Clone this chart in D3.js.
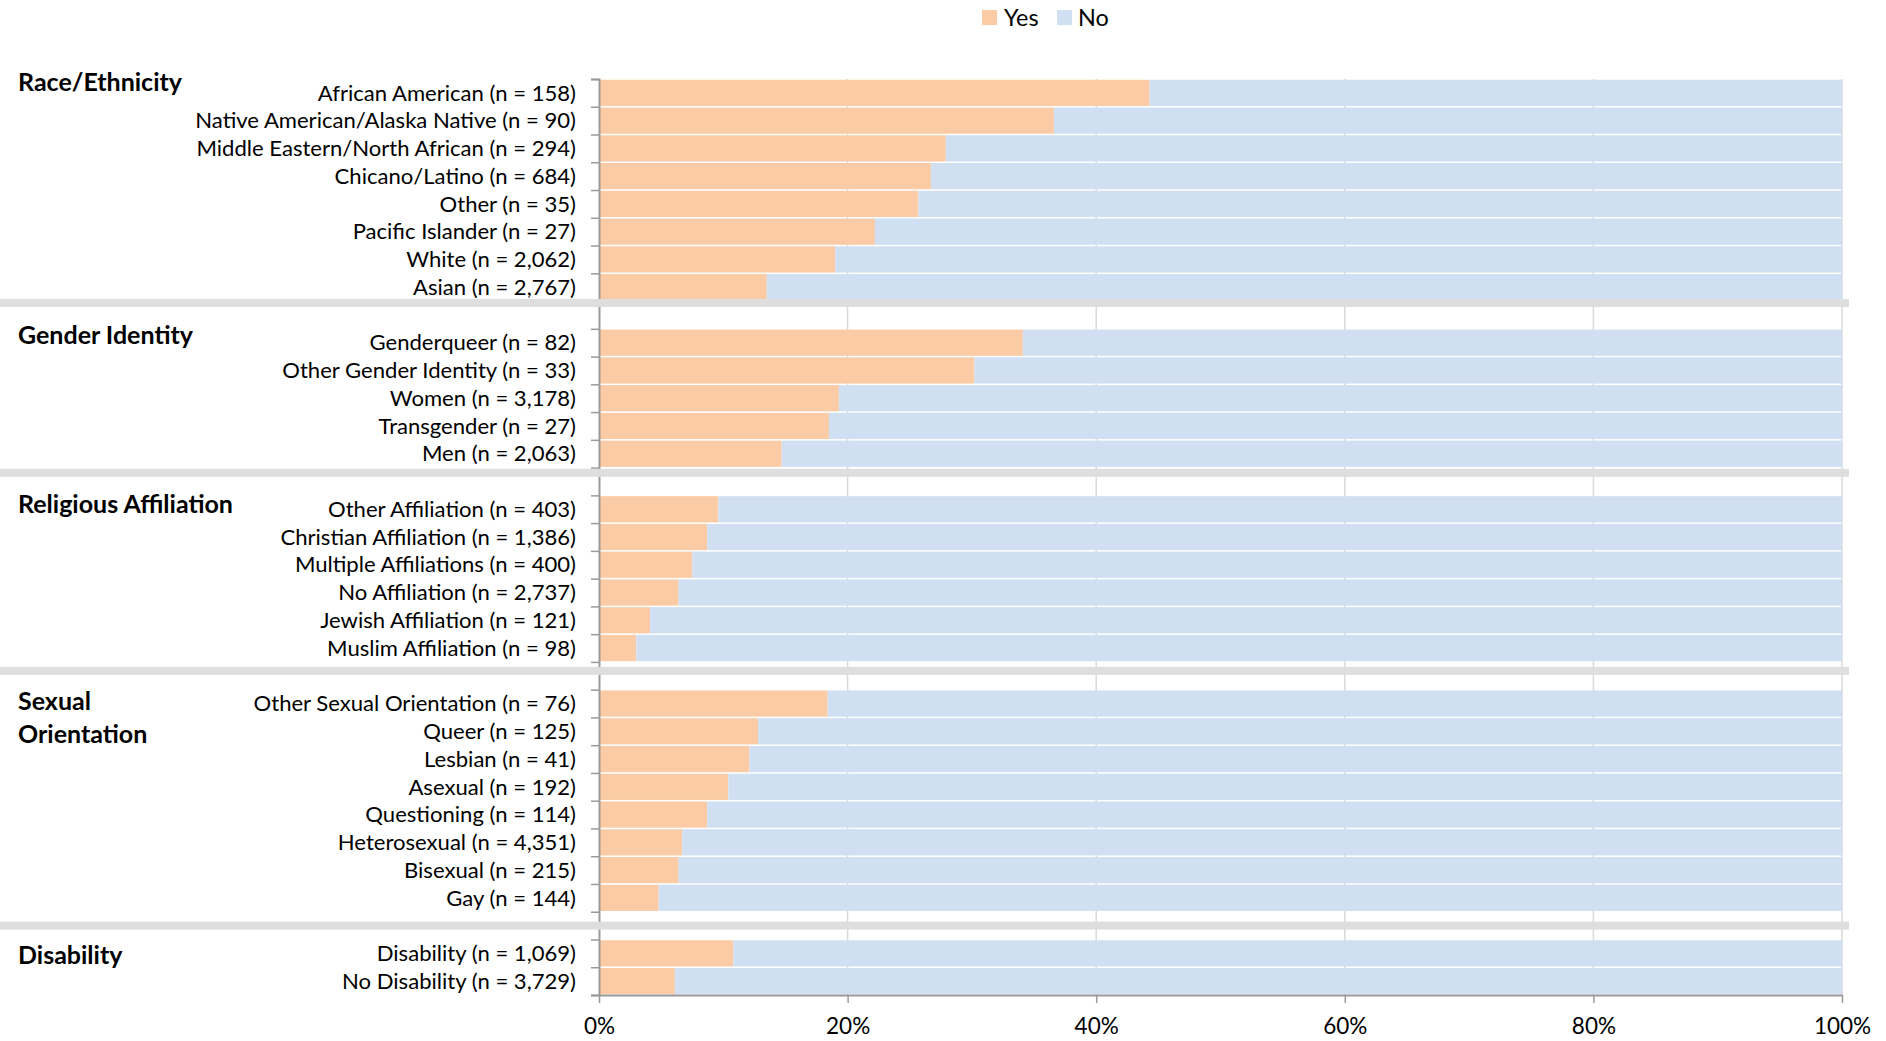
<!DOCTYPE html>
<html>
<head>
<meta charset="utf-8">
<script src="https://cdn.jsdelivr.net/npm/d3@7"></script>
<style>
  html, body { margin: 0; padding: 0; background: #ffffff; }
  svg { display: block; }
</style>
</head>
<body>
<svg id="chart" width="1886" height="1041"></svg>
<script>
// ---- data ----
const groupTitles = [
  ["Race/Ethnicity"],
  ["Gender Identity"],
  ["Religious Affiliation"],
  ["Sexual", "Orientation"],
  ["Disability"]
];

const categories = [
  "African American (n = 158)",
  "Native American/Alaska Native (n = 90)",
  "Middle Eastern/North African (n = 294)",
  "Chicano/Latino (n = 684)",
  "Other (n = 35)",
  "Pacific Islander (n = 27)",
  "White (n = 2,062)",
  "Asian (n = 2,767)",
  "Genderqueer (n = 82)",
  "Other Gender Identity (n = 33)",
  "Women (n = 3,178)",
  "Transgender (n = 27)",
  "Men (n = 2,063)",
  "Other Affiliation (n = 403)",
  "Christian Affiliation (n = 1,386)",
  "Multiple Affiliations (n = 400)",
  "No Affiliation (n = 2,737)",
  "Jewish Affiliation (n = 121)",
  "Muslim Affiliation (n = 98)",
  "Other Sexual Orientation (n = 76)",
  "Queer (n = 125)",
  "Lesbian (n = 41)",
  "Asexual (n = 192)",
  "Questioning (n = 114)",
  "Heterosexual (n = 4,351)",
  "Bisexual (n = 215)",
  "Gay (n = 144)",
  "Disability (n = 1,069)",
  "No Disability (n = 3,729)"
];

const categoryGroup = [
  0, 0, 0, 0, 0, 0, 0, 0,
  1, 1, 1, 1, 1,
  2, 2, 2, 2, 2, 2,
  3, 3, 3, 3, 3, 3, 3, 3,
  4, 4
];

const seriesNames = ["Yes", "No"];

const yesValues = [
  44.3, 36.6, 27.9, 26.7, 25.7, 22.2, 19.0, 13.5,
  34.1, 30.2, 19.3, 18.5, 14.7,
  9.6, 8.7, 7.5, 6.4, 4.1, 3.0,
  18.4, 12.8, 12.1, 10.4, 8.7, 6.7, 6.4, 4.8,
  10.8, 6.1
];

const noValues = [
  55.7, 63.4, 72.1, 73.3, 74.3, 77.8, 81.0, 86.5,
  65.9, 69.8, 80.7, 81.5, 85.3,
  90.4, 91.3, 92.5, 93.6, 95.9, 97.0,
  81.6, 87.2, 87.9, 89.6, 91.3, 93.3, 93.6, 95.2,
  89.2, 93.9
];

const xTickValues = [0, 20, 40, 60, 80, 100];
const xTickLabels = ["0%", "20%", "40%", "60%", "80%", "100%"];

// ---- layout & style ----
const FONT = "Lato, 'Open Sans', 'DejaVu Sans', sans-serif";
const colors = { Yes: "#fbcba5", No: "#d0e0f2" };
const plot = { left: 599, right: 1842, top: 79, bottom: 995 };
const labelRight = 576;
const titleX = 18;

const svg = d3.select("#chart");

// Size a font so a reference string spans the given width.
function fitFontSize(text, weight, targetWidth) {
  const t = svg.append("text")
    .attr("font-family", FONT)
    .attr("font-weight", weight)
    .attr("font-size", 100)
    .text(text);
  const w = t.node().getComputedTextLength();
  t.remove();
  return 100 * targetWidth / w;
}
const labelSize = fitFontSize("Native American/Alaska Native (n = 90)", 400, 381);
const titleSize = fitFontSize("Religious Affiliation", 700, 215);
const tickSize = labelSize * 1.02;
const legendSize = labelSize * 1.06;

// Row keys: each group's categories followed by a spacer row (none after the last group).
const rowKeys = [];
const firstRowOfGroup = [];
const spacerRows = [];
groupTitles.forEach((_, g) => {
  const idx = categories.map((c, i) => i).filter(i => categoryGroup[i] === g);
  firstRowOfGroup.push(rowKeys.length);
  idx.forEach(i => rowKeys.push("c" + i));
  if (g < groupTitles.length - 1) {
    spacerRows.push(rowKeys.length);
    rowKeys.push("gap" + g);
  }
});

const x = d3.scaleLinear().domain([0, 100]).range([plot.left, plot.right]);
const y = d3.scaleBand().domain(rowKeys).range([plot.top, plot.bottom])
  .paddingInner(0.055).paddingOuter(0.0275);
const rowEdge = d3.scaleLinear().domain([0, rowKeys.length]).range([plot.top, plot.bottom]);
// Side panel (titles and divider bands) runs on a slightly wider row pitch.
const panel = d3.scaleLinear().domain([0, rowKeys.length]).range([76.6, 76.6 + rowKeys.length * 28.3]);
const titleRow = d3.scaleLinear().domain([0, rowKeys.length]).range([81.8, 81.8 + rowKeys.length * 28.17]);

// ---- gridlines ----
svg.append("g")
  .selectAll("line")
  .data(xTickValues.filter(v => v > 0))
  .join("line")
  .attr("x1", d => x(d)).attr("x2", d => x(d))
  .attr("y1", plot.top).attr("y2", plot.bottom)
  .attr("stroke", "#d9d9d9")
  .attr("stroke-width", 1.5);

// ---- stacked bars ----
const table = categories.map((c, i) => ({ key: "c" + i, Yes: yesValues[i], No: noValues[i] }));
const stacked = d3.stack().keys(seriesNames)(table);

svg.append("g")
  .selectAll("g")
  .data(stacked)
  .join("g")
  .attr("fill", d => colors[d.key])
  .selectAll("rect")
  .data(d => d)
  .join("rect")
  .attr("x", d => x(d[0]))
  .attr("width", d => x(d[1]) - x(d[0]))
  .attr("y", d => y(d.data.key))
  .attr("height", y.bandwidth());

// ---- axes ----
const leftAxis = svg.append("g")
  .attr("transform", `translate(${plot.left},0)`)
  .call(d3.axisLeft(rowEdge).tickValues(d3.range(rowKeys.length + 1)).tickFormat("").tickSize(8));
leftAxis.select(".domain").attr("stroke", "#9a9a9a").attr("stroke-width", 2);
leftAxis.selectAll(".tick line").attr("stroke", "#9a9a9a").attr("stroke-width", 1.5);

const bottomAxis = svg.append("g")
  .attr("transform", `translate(0,${plot.bottom})`)
  .call(d3.axisBottom(x).tickValues(xTickValues)
    .tickFormat((d, i) => xTickLabels[i]).tickSize(8).tickSizeOuter(0));
bottomAxis.select(".domain").attr("stroke", "#9a9a9a").attr("stroke-width", 2);
bottomAxis.selectAll(".tick line").attr("stroke", "#9a9a9a").attr("stroke-width", 1.5);
bottomAxis.selectAll(".tick text")
  .attr("y", 31)
  .attr("dy", "0.35em")
  .attr("fill", "#000")
  .attr("font-family", FONT)
  .attr("font-size", tickSize);

// ---- category labels ----
svg.append("g")
  .selectAll("text")
  .data(categories)
  .join("text")
  .attr("x", labelRight)
  .attr("y", (d, i) => y("c" + i) + y.bandwidth() / 2)
  .attr("dy", "0.35em")
  .attr("text-anchor", "end")
  .attr("font-family", FONT)
  .attr("font-size", labelSize)
  .attr("fill", "#000")
  .text(d => d);

// ---- group titles ----
const titleG = svg.append("g");
groupTitles.forEach((lines, g) => {
  const yc = titleRow(firstRowOfGroup[g]);
  const t = titleG.append("text")
    .attr("x", titleX)
    .attr("y", yc)
    .attr("dy", "0.35em")
    .attr("font-family", FONT)
    .attr("font-weight", 700)
    .attr("font-size", titleSize)
    .attr("fill", "#000");
  lines.forEach((ln, k) => {
    t.append("tspan").attr("x", titleX).attr("y", yc + k * 32.6).attr("dy", "0.35em").text(ln);
  });
});

// ---- divider bands between groups ----
svg.append("g")
  .selectAll("rect")
  .data(spacerRows)
  .join("rect")
  .attr("x", 0)
  .attr("width", 1849)
  .attr("y", d => panel(d) - 4)
  .attr("height", 8)
  .attr("fill", "#dedede");

// ---- legend ----
const legend = svg.append("g");
const legendItems = [
  { name: seriesNames[0], sx: 982, tx: 1004 },
  { name: seriesNames[1], sx: 1057, tx: 1078 }
];
legend.selectAll("rect")
  .data(legendItems)
  .join("rect")
  .attr("x", d => d.sx).attr("y", 10)
  .attr("width", 15).attr("height", 15)
  .attr("fill", d => colors[d.name]);
legend.selectAll("text")
  .data(legendItems)
  .join("text")
  .attr("x", d => d.tx).attr("y", 18)
  .attr("dy", "0.35em")
  .attr("font-family", FONT)
  .attr("font-size", legendSize)
  .attr("fill", "#000")
  .text(d => d.name);
</script>
</body>
</html>
